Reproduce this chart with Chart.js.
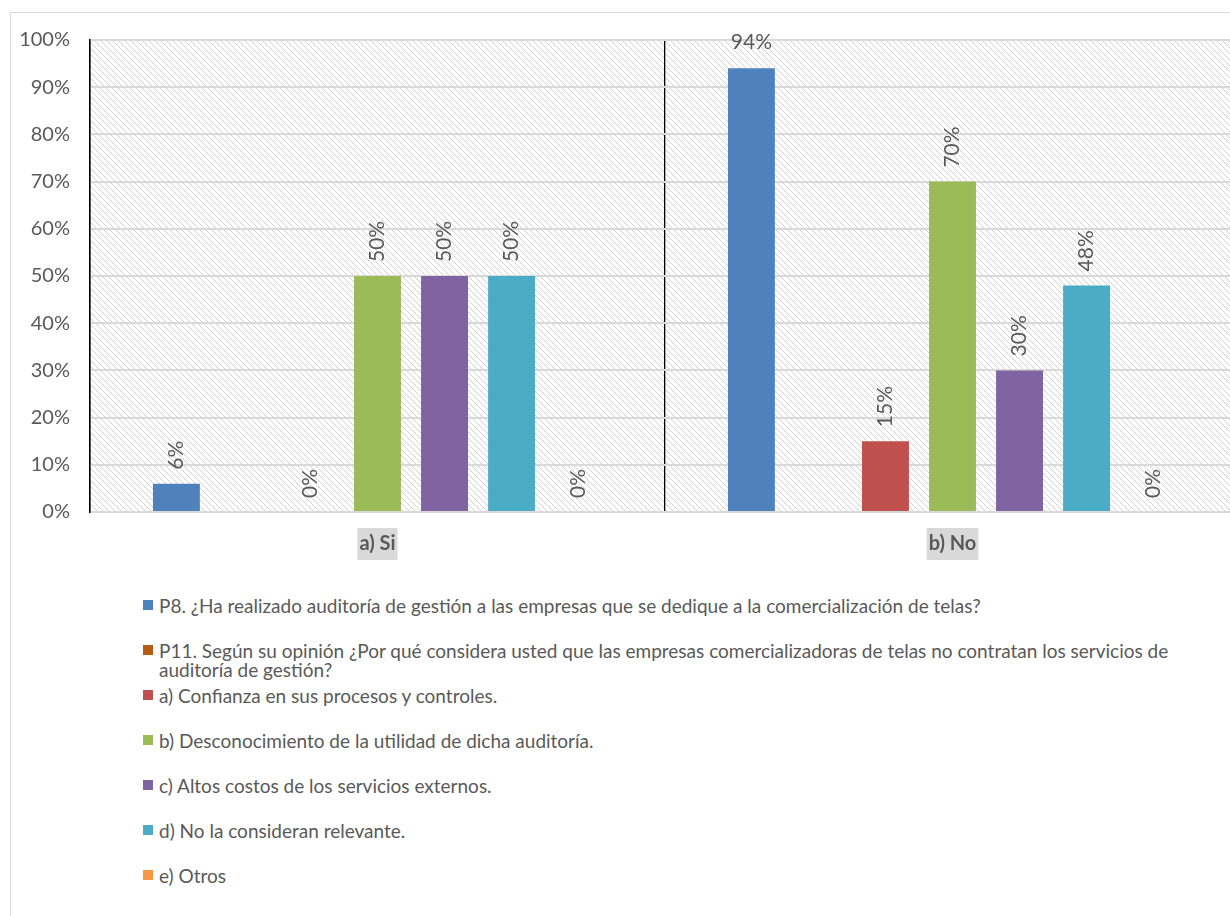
<!DOCTYPE html>
<html>
<head>
<meta charset="utf-8">
<script src="https://cdn.jsdelivr.net/npm/chart.js@4.4.1/dist/chart.umd.min.js"></script>
<style>
  html, body { margin: 0; padding: 0; background: #fff; overflow: hidden; }
  #wrap { position: relative; width: 1230px; height: 916px; overflow: hidden; }
  #frame { position: absolute; left: 10px; top: 12px; width: 1240px; height: 920px; border: 1.5px solid #d9d9d9; box-sizing: border-box; }
  #chartBox { position: absolute; left: 0; top: 0; width: 1250px; height: 580px; }
  #legend { position: absolute; left: 143px; top: 0; font-family: Lato, "Open Sans", sans-serif; font-size: 19px; color: #595959; }
  .item { position: absolute; left: 0; width: 1060px; white-space: normal; line-height: 19px; }
  .item .box { position: absolute; left: 0; top: 4px; width: 10px; height: 10px; }
  .item .txt { display: block; margin-left: 16px; }
</style>
</head>
<body>
<div id="wrap">
  <div id="frame"></div>
  <div id="chartBox"><canvas id="grafico" width="1250" height="580"></canvas></div>
  <div id="legend"></div>
</div>
<script>
// categorias y series (porcentajes)
const categorias = ["a) Si", "b) No"];
const serieNombres = [
    "P8. ¿Ha realizado auditoría de gestión a las empresas que se dedique a la comercialización de telas?",
    "P11. Según su opinión ¿Por qué considera usted que las empresas comercializadoras de telas no contratan los servicios de auditoría de gestión?",
    "a) Confianza en sus procesos y controles.",
    "b) Desconocimiento de la utilidad de dicha auditoría.",
    "c) Altos costos de los servicios externos.",
    "d) No la consideran relevante.",
    "e) Otros"
];
const p8 = [6, 94];
const p11 = [null, null];
const confianza = [0, 15];
const desconocimiento = [50, 70];
const altosCostos = [50, 30];
const noRelevante = [50, 48];
const otros = [0, 0];
const colores = ["#4f81bd", "#b65a14", "#c0504d", "#9bbb59", "#8064a2", "#4bacc6", "#f79646"];
const ticksY = ["0%", "10%", "20%", "30%", "40%", "50%", "60%", "70%", "80%", "90%", "100%"];

const valores = [p8, p11, confianza, desconocimiento, altosCostos, noRelevante, otros];

// trama diagonal del fondo del área de trazado
function crearTrama() {
    const c = document.createElement("canvas");
    c.width = 6; c.height = 6;
    const g = c.getContext("2d");
    g.fillStyle = "#fff";
    g.fillRect(0, 0, 6, 6);
    g.fillStyle = "#d2d2d2";
    for (let i = 0; i < 6; i++) {
        g.fillRect(i, i, 1, 1);
    }
    return c;
}

const fondoTrama = {
    id: "fondoTrama",
    beforeDraw(chart) {
        const { ctx, chartArea: a } = chart;
        ctx.save();
        ctx.fillStyle = ctx.createPattern(crearTrama(), "repeat");
        ctx.fillRect(a.left, a.top, a.right - a.left, a.bottom - a.top);
        ctx.restore();
    }
};

// etiquetas de valor sobre cada barra
const etiquetas = {
    id: "etiquetas",
    afterDatasetsDraw(chart) {
        const ctx = chart.ctx;
        ctx.save();
        ctx.fillStyle = "#595959";
        ctx.font = "21px Lato, 'Open Sans', sans-serif";
        chart.data.datasets.forEach((ds, i) => {
            const meta = chart.getDatasetMeta(i);
            meta.data.forEach((bar, j) => {
                const v = ds.data[j];
                if (v === null || v === undefined) return;
                const txt = v + "%";
                if (v > 85) {
                    ctx.textAlign = "center";
                    ctx.textBaseline = "middle";
                    ctx.fillText(txt, bar.x, bar.y - 26);
                } else {
                    ctx.save();
                    ctx.translate(bar.x, bar.y - 14);
                    ctx.rotate(-Math.PI / 2);
                    ctx.textAlign = "left";
                    ctx.textBaseline = "middle";
                    ctx.fillText(txt, 0, 0);
                    ctx.restore();
                }
            });
        });
        ctx.restore();
    }
};

const datasets = serieNombres.map((nombre, i) => ({
    label: nombre,
    data: valores[i],
    backgroundColor: colores[i],
    categoryPercentage: 0.816,
    barPercentage: 0.70
}));

const chart = new Chart(document.getElementById("grafico"), {
    type: "bar",
    data: { labels: categorias, datasets: datasets },
    options: {
        responsive: false,
        animation: false,
        layout: { padding: { top: 40, right: 10, left: 0, bottom: 0 } },
        plugins: { legend: { display: false }, tooltip: { enabled: false } },
        scales: {
            x: {
                grid: { color: "#000", lineWidth: 1.3, drawTicks: false, offset: true },
                border: { color: "#d9d9d9", width: 2 },
                ticks: {
                    color: "#595959",
                    font: { family: "Lato, 'Open Sans', sans-serif", size: 20, weight: "bold" },
                    padding: 20,
                    showLabelBackdrop: true,
                    backdropColor: "#d9d9d9",
                    backdropPadding: { left: 2, right: 2, top: 4, bottom: 4 }
                },
                afterFit(scale) { scale.height = 68; }
            },
            y: {
                min: 0,
                max: 100,
                grid: { color: "#d9d9d9", lineWidth: 2, drawTicks: false },
                border: { color: "#000", width: 1.5 },
                ticks: {
                    stepSize: 10,
                    color: "#595959",
                    padding: 20,
                    font: { family: "Lato, 'Open Sans', sans-serif", size: 20 },
                    callback: (v) => ticksY[Math.round(v / 10)]
                },
                afterFit(scale) { scale.width = 90; }
            }
        }
    },
    plugins: [fondoTrama, etiquetas]
});

// leyenda en lista vertical debajo del gráfico
const leyenda = document.getElementById("legend");
chart.data.datasets.forEach((ds, i) => {
    const item = document.createElement("div");
    item.className = "item";
    item.style.top = (596 + i * 45) + "px";
    item.innerHTML = `<span class="box" style="background:${ds.backgroundColor}"></span><span class="txt">${ds.label}</span>`;
    leyenda.appendChild(item);
});
</script>
</body>
</html>
